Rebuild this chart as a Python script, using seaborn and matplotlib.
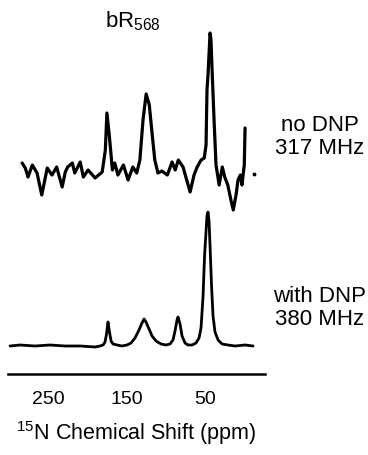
import numpy as np
import pandas as pd
import matplotlib
matplotlib.use("Agg")
import matplotlib.pyplot as plt
import seaborn as sns

sns.set_theme(style="white")
plt.rcParams['font.family'] = ['Liberation Sans', 'DejaVu Sans']
plt.rcParams['mathtext.default'] = 'regular'

# ---- data ----
# no DNP, 317 MHz spectrum (ppm, intensity in arbitrary units)
nodnp_ppm = [283, 279, 275.5, 270, 264, 258, 251, 245, 239, 232, 228, 225, 219, 216,
             209, 205, 199, 190, 181, 177, 175, 172, 168, 165, 161, 154, 148, 142, 137,
             133, 129, 125, 121, 117.5, 114, 110, 105, 98, 92, 88, 84, 78, 69, 64, 60,
             55, 51, 48.7, 47.5, 46.2, 43.6, 42.4, 41, 38.5, 36, 32, 28, 24.5, 21, 17,
             14, 10.5, 8, 5, 3, 0, -1]
nodnp_int = [10, 5, -4, 8, 0, -22, 5, -2, 6, -14, 1, 6, 10, 0,
             11, -4, 3, -5, 1, 23, 60, 38, 3, 10, -2, 8, -7, 6, 0,
             13, 53, 79, 68, 40, 13, 0, 2, -2, 11, 3, 13, 6, -19, -2, 6,
             13, 15, 28, 83, 98, 140, 133, 103, 53, 8, -12, 6, -5, -12, -27,
             -37, -22, -7, -2, -12, 8, 45]
stray_ppm = [-12.4]
stray_int = [-1]

# with DNP, 380 MHz spectrum
dnp_ppm = [298.4, 285.7, 266.6, 247.5, 228.3, 209.2, 190.1, 183.8, 179.9, 177.4, 175.5,
           173.6, 171.7, 169.7, 167.2, 162.1, 155.7, 149.4, 144.3, 139.2, 134.1, 130.3,
           127.7, 125.2, 121.3, 117.5, 112.4, 106, 99.7, 94.6, 90.8, 88.2, 85.7, 84.4,
           81.8, 79.3, 75.5, 71.7, 66.6, 61.5, 57.6, 55.1, 52.5, 50.6, 48.7, 47.5, 46.2,
           44.9, 43.6, 41.7, 39.8, 37.3, 33.4, 28.3, 20.7, 11.8, -1, -11.1]
dnp_int = [0, 1, 0, 1, 0, 0, -1, 0, 1, 4, 12,
           24, 14, 5, 2, 1, 0, 1, 3, 8, 16, 23,
           27, 24, 17, 10, 5, 2, 1, 2, 6, 15, 26, 29,
           22, 10, 3, 1, 1, 3, 8, 18, 50, 90, 115, 130, 134,
           125, 100, 60, 30, 14, 6, 2, 1, 0, 1, 0]

tick_values = [250, 150, 50]
tick_labels = ["250", "150", "50"]
label_top = "no DNP\n317 MHz"
label_bottom = "with DNP\n380 MHz"
title = "bR$_{568}$"
xlabel = "$^{15}$N Chemical Shift (ppm)"

W, H = 368, 455
fig = plt.figure(figsize=(W / 100, H / 100), dpi=100)

def fx(px):
    return px / W

def fy(py):
    return 1 - py / H

ax_left, ax_right, ax_bottom, ax_top = 8, 265, 374, 20
ax = fig.add_axes([fx(ax_left), fy(ax_bottom), fx(ax_right) - fx(ax_left),
                   fy(ax_top) - fy(ax_bottom)])

top_offset = 201
bottom_offset = 28

df_top = pd.DataFrame({"ppm": nodnp_ppm, "y": np.array(nodnp_int) + top_offset})
df_bot = pd.DataFrame({"ppm": dnp_ppm, "y": np.array(dnp_int) + bottom_offset})

sns.lineplot(data=df_top, x="ppm", y="y", ax=ax, color="black", lw=2.3,
             estimator=None, sort=False)
sns.lineplot(data=df_bot, x="ppm", y="y", ax=ax, color="black", lw=2.0,
             estimator=None, sort=False)
ax.plot(stray_ppm, np.array(stray_int) + top_offset, 'o', color='black', ms=1.8)

ax.set_xlim(301, -26.4)
ax.set_ylim(0, 354)
for s in ["left", "right", "top"]:
    ax.spines[s].set_visible(False)
ax.spines["bottom"].set_linewidth(1.8)
ax.spines["bottom"].set_color("black")
ax.set_yticks([])
ax.set_xticks(tick_values)
ax.set_xticklabels(tick_labels, fontsize=14)
ax.tick_params(axis='x', length=0, pad=12, colors='black')
ax.set_xlabel(xlabel, fontsize=15.5, labelpad=8, color='black')
ax.set_ylabel("")

fig.text(fx(133), fy(21), title, ha='center', va='center', fontsize=16, color='black')
fig.text(fx(320), fy(137), label_top, ha='center', va='center', fontsize=16,
         linespacing=1.1, color='black')
fig.text(fx(320), fy(308), label_bottom, ha='center', va='center', fontsize=16,
         linespacing=1.1, color='black')

fig.savefig("out.png", dpi=100, facecolor='white')
